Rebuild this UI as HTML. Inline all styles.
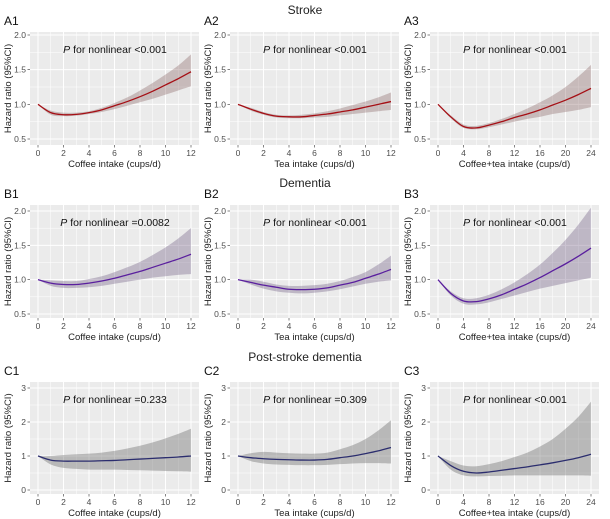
<!DOCTYPE html>
<html><head><meta charset="utf-8"><style>
body{margin:0;background:#fff;}
svg{display:block;font-family:"Liberation Sans",Arial,sans-serif;}
</style></head><body>
<svg id="chart" width="610" height="519" viewBox="0 0 610 519" xmlns="http://www.w3.org/2000/svg"></svg>
<script>
const xs12 = [0,1,2,3,4,5,6,7,8,9,10,11,12];
const xs24 = [0,2,4,6,8,10,12,14,16,18,20,22,24];
const a1Est = [1.0,0.88,0.85,0.855,0.88,0.92,0.98,1.04,1.11,1.19,1.28,1.37,1.47];
const a1Lo  = [1.0,0.85,0.83,0.835,0.86,0.89,0.93,0.98,1.03,1.08,1.14,1.2,1.26];
const a1Hi  = [1.0,0.91,0.88,0.88,0.9,0.95,1.02,1.1,1.2,1.31,1.43,1.56,1.72];
const a2Est = [1.0,0.93,0.87,0.83,0.82,0.82,0.84,0.86,0.89,0.92,0.96,1.0,1.04];
const a2Lo  = [1,0.91,0.85,0.81,0.80,0.80,0.81,0.82,0.84,0.86,0.88,0.9,0.92];
const a2Hi  = [1,0.95,0.89,0.85,0.84,0.85,0.87,0.9,0.94,0.99,1.04,1.1,1.17];
const a3Est = [1.0,0.82,0.68,0.66,0.70,0.75,0.81,0.86,0.92,0.99,1.06,1.14,1.23];
const a3Lo  = [1,0.80,0.66,0.64,0.67,0.71,0.75,0.79,0.82,0.86,0.89,0.92,0.96];
const a3Hi  = [1,0.84,0.71,0.69,0.73,0.79,0.86,0.94,1.03,1.13,1.25,1.4,1.57];
const b1Est = [1,0.95,0.93,0.93,0.95,0.98,1.02,1.07,1.12,1.18,1.24,1.3,1.37];
const b1Lo  = [1,0.91,0.88,0.88,0.89,0.91,0.94,0.97,1.0,1.03,1.05,1.07,1.08];
const b1Hi  = [1,0.99,0.98,0.98,1.01,1.05,1.11,1.18,1.26,1.36,1.47,1.6,1.75];
const b2Est = [1,0.96,0.92,0.89,0.86,0.855,0.86,0.88,0.92,0.96,1.02,1.08,1.15];
const b2Lo  = [1,0.93,0.87,0.83,0.81,0.80,0.81,0.83,0.86,0.9,0.94,0.97,0.99];
const b2Hi  = [1,1.0,0.97,0.93,0.91,0.91,0.92,0.94,0.98,1.04,1.11,1.22,1.35];
const b3Est = [1,0.8,0.69,0.68,0.72,0.78,0.86,0.94,1.03,1.13,1.23,1.34,1.46];
const b3Lo  = [1,0.77,0.65,0.64,0.67,0.72,0.77,0.82,0.87,0.91,0.95,0.99,1.03];
const b3Hi  = [1,0.83,0.73,0.73,0.78,0.86,0.96,1.08,1.22,1.39,1.58,1.8,2.05];
const c1Est = [1,0.88,0.85,0.85,0.85,0.86,0.87,0.89,0.91,0.93,0.95,0.97,1.0];
const c1Lo  = [1,0.75,0.65,0.62,0.6,0.6,0.6,0.59,0.58,0.57,0.56,0.55,0.54];
const c1Hi  = [1,1.0,1.03,1.05,1.07,1.1,1.15,1.22,1.3,1.4,1.52,1.65,1.8];
const c2Est = [1,0.95,0.92,0.9,0.89,0.88,0.88,0.9,0.95,1.0,1.07,1.15,1.25];
const c2Lo  = [1,0.85,0.78,0.75,0.74,0.73,0.73,0.74,0.76,0.78,0.79,0.79,0.78];
const c2Hi  = [1,1.08,1.12,1.1,1.08,1.07,1.07,1.1,1.2,1.32,1.5,1.75,2.05];
const c3Est = [1,0.72,0.55,0.5,0.53,0.58,0.63,0.68,0.74,0.8,0.87,0.95,1.05];
const c3Lo  = [1,0.6,0.43,0.4,0.41,0.42,0.43,0.43,0.43,0.43,0.43,0.43,0.42];
const c3Hi  = [1,0.85,0.72,0.7,0.76,0.85,0.97,1.1,1.28,1.5,1.8,2.15,2.6];
const yTicksAB = [0.5,1.0,1.5,2.0];
const yTickLabelsAB = ["0.5","1.0","1.5","2.0"];
const yTicksC = [0,1,2,3];
const yTickLabelsC = ["0","1","2","3"];
const xTicks12 = [0,2,4,6,8,10,12];
const xTicks24 = [0,4,8,12,16,20,24];
const rowTitles = ["Stroke","Dementia","Post-stroke dementia"];
const pValues = [["<0.001","<0.001","<0.001"],["=0.0082","<0.001","<0.001"],["=0.233","=0.309","<0.001"]];
const xTitles = ["Coffee intake (cups/d)","Tea intake (cups/d)","Coffee+tea intake (cups/d)"];

const NS="http://www.w3.org/2000/svg";
const svg=document.getElementById('chart');
function mk(tag,attrs,parent){const e=document.createElementNS(NS,tag);for(const k in attrs)e.setAttribute(k,attrs[k]);(parent||svg).appendChild(e);return e;}
function smooth(pts){let d=`M${pts[0][0]},${pts[0][1]}`;for(let i=0;i<pts.length-1;i++){const p0=pts[Math.max(0,i-1)],p1=pts[i],p2=pts[i+1],p3=pts[Math.min(pts.length-1,i+2)];const c1x=p1[0]+(p2[0]-p0[0])/6,c1y=p1[1]+(p2[1]-p0[1])/6,c2x=p2[0]-(p3[0]-p1[0])/6,c2y=p2[1]-(p3[1]-p1[1])/6;d+=` C${c1x},${c1y} ${c2x},${c2y} ${p2[0]},${p2[1]}`;}return d;}

const rows=[
 {top:32,bot:145,y0:0.5,y1:2.0,t0:35,t1:139,ticks:yTicksAB,labels:yTickLabelsAB,line:"#a50f15",band:"rgba(125,85,85,0.32)",label:"A",
  data:[[xs12,a1Est,a1Lo,a1Hi],[xs12,a2Est,a2Lo,a2Hi],[xs24,a3Est,a3Lo,a3Hi]],titleY:14},
 {top:205,bot:318,y0:0.5,y1:2.0,t0:211,t1:314,ticks:yTicksAB,labels:yTickLabelsAB,line:"#5a1f9e",band:"rgba(105,85,125,0.35)",label:"B",
  data:[[xs12,b1Est,b1Lo,b1Hi],[xs12,b2Est,b2Lo,b2Hi],[xs24,b3Est,b3Lo,b3Hi]],titleY:187},
 {top:382,bot:494,y0:0,y1:3,t0:490,t1:388,ticks:yTicksC,labels:yTickLabelsC,line:"#2b2d6e",band:"rgba(95,95,95,0.36)",label:"C",
  data:[[xs12,c1Est,c1Lo,c1Hi],[xs12,c2Est,c2Lo,c2Hi],[xs24,c3Est,c3Lo,c3Hi]],titleY:361}
];
rows.forEach((r,ri)=>{
  const t=mk('text',{x:305,y:r.titleY,'text-anchor':'middle','font-size':12,fill:'#222'});t.textContent=rowTitles[ri];
  
  
  // y scale: value->pixel
  let ya,yb;
  if(ri<2){ya=0.5;yb=2.0;var pa=r.t1,pb=r.t0;}else{ya=0;yb=3;var pa=r.t0,pb=r.t1;}
  const Y=v=>pa+(v-ya)*(pb-pa)/(yb-ya);
  for(let ci=0;ci<3;ci++){
    const off=ci*200,L=off+30,R=off+199;
    const g=mk('g',{});
    
    
    const [xs,est,lo,hi]=r.data[ci];
    const xmax=xs[xs.length-1];
    const X=v=>off+38+v*(153/xmax);
    const pl=mk('text',{x:off+4,y:r.top-7,'font-size':12,fill:'#111'},g);pl.textContent=r.label+(ci+1);
    
    
    mk('rect',{x:L,y:r.top,width:R-L,height:r.bot-r.top,fill:'#ebebeb'},g);
    const xt=xmax===12?xTicks12:xTicks24;
    const step=xt[1]-xt[0];
    for(let v=step/2;v<xmax+step;v+=step){const px=X(v);if(px>L&&px<R)mk('line',{x1:px,x2:px,y1:r.top,y2:r.bot,stroke:'#fff','stroke-width':0.5},g);}
    const ys=r.ticks[1]-r.ticks[0];
    for(let v=r.ticks[0]-ys/2;v<=r.ticks[3]+ys;v+=ys){const py=Y(v);if(py>r.top&&py<r.bot)mk('line',{x1:L,x2:R,y1:py,y2:py,stroke:'#fff','stroke-width':0.5},g);}
    xt.forEach(v=>{const px=X(v);mk('line',{x1:px,x2:px,y1:r.top,y2:r.bot,stroke:'#fff','stroke-width':1},g);
      mk('line',{x1:px,x2:px,y1:r.bot,y2:r.bot+2.5,stroke:'#333','stroke-width':0.6},g);
      const tl=mk('text',{x:px,y:r.bot+11,'text-anchor':'middle','font-size':8.5,fill:'#4d4d4d'},g);tl.textContent=v;
      
      });
    r.ticks.forEach((v,i)=>{const py=Y(v);mk('line',{x1:L,x2:R,y1:py,y2:py,stroke:'#fff','stroke-width':1},g);
      mk('line',{x1:L-2.5,x2:L,y1:py,y2:py,stroke:'#333','stroke-width':0.6},g);
      const tl=mk('text',{x:L-4,y:py+3,'text-anchor':'end','font-size':8.5,fill:'#4d4d4d'},g);tl.textContent=r.labels[i];
      
      });
    const hiPts=xs.map((x,i)=>[X(x),Y(hi[i])]);
    const loPts=xs.map((x,i)=>[X(x),Y(lo[i])]).reverse();
    const bd=smooth(hiPts)+' L'+smooth(loPts).slice(1)+' Z';
    const band=mk('path',{d:bd,fill:r.band,stroke:'none'},g);
    
    
    const ln=mk('path',{d:smooth(xs.map((x,i)=>[X(x),Y(est[i])])),fill:'none',stroke:r.line,'stroke-width':1.3},g);
    
    
    const pt=mk('text',{x:off+115,y:r.top+21,'text-anchor':'middle','font-size':10.5,fill:'#111'},g);
    pt.innerHTML='<tspan font-style="italic">P</tspan> for nonlinear '+pValues[ri][ci].replace('<','&lt;');
    
    
    const xtt=mk('text',{x:(L+R)/2,y:r.bot+22,'text-anchor':'middle','font-size':9.5,fill:'#222'},g);xtt.textContent=xTitles[ci];
    
    
    const cy=(r.top+r.bot)/2;
    const ytt=mk('text',{x:off+11,y:cy,'text-anchor':'middle','font-size':9.5,fill:'#222',transform:`rotate(-90 ${off+11} ${cy})`},g);ytt.textContent='Hazard ratio (95%CI)';
    
    
  }
});
</script>
</body></html>
